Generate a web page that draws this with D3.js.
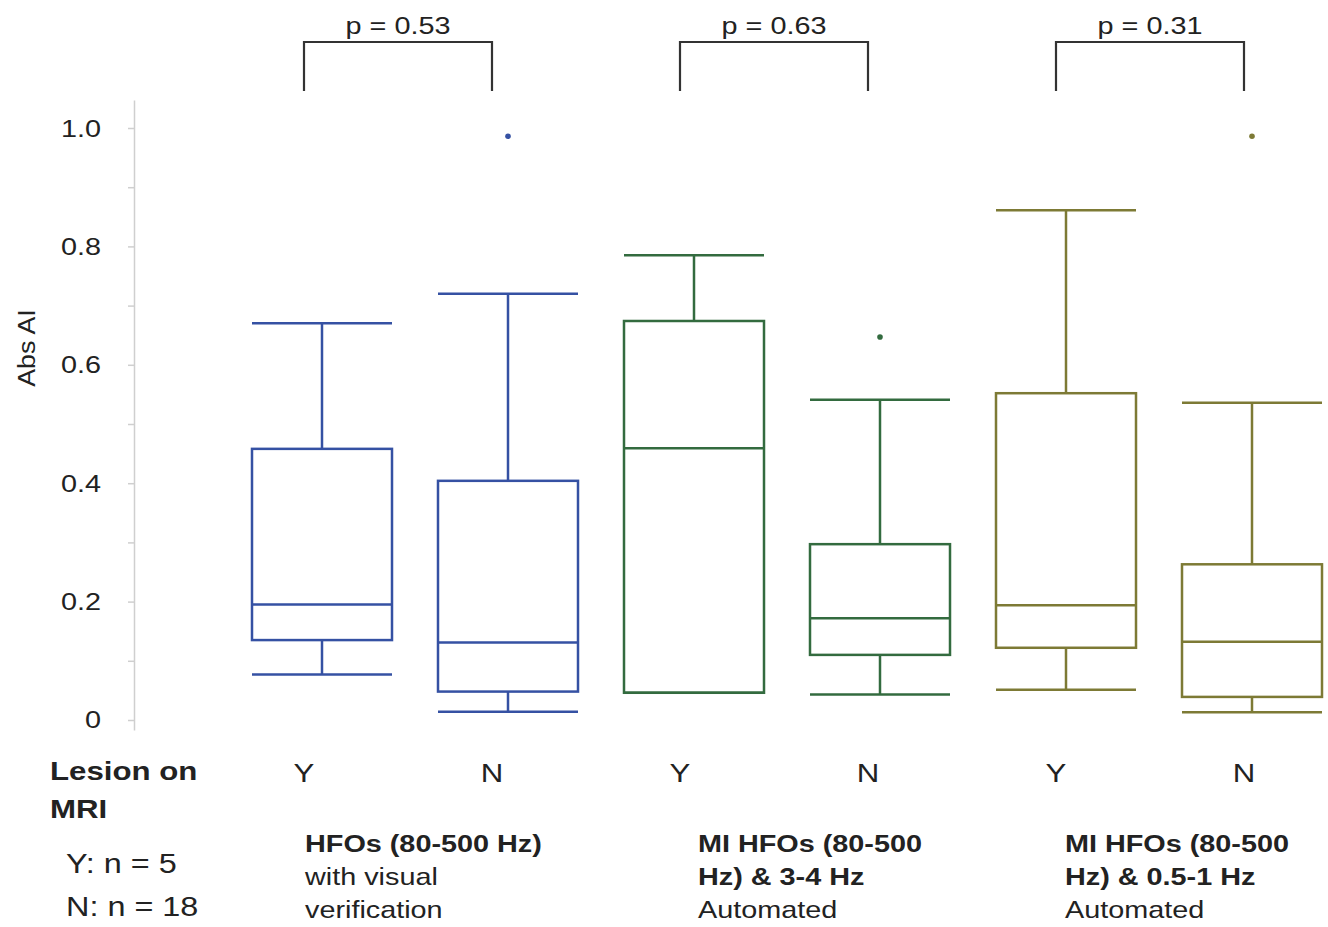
<!DOCTYPE html>
<html>
<head>
<meta charset="utf-8">
<script src="https://cdn.jsdelivr.net/npm/d3@7"></script>
<style>
  body { margin: 0; background: #fff; }
  text { font-family: "Liberation Sans", Arial, sans-serif; fill: #222; }
</style>
</head>
<body>
<script>
var width = 1328, height = 927;

// data
var categories = ["Y", "N", "Y", "N", "Y", "N"];
var groupOf = [0, 0, 1, 1, 2, 2];
var whiskerHigh = [0.670, 0.720, 0.785, 0.541, 0.861, 0.536];
var q3 = [0.458, 0.404, 0.674, 0.297, 0.552, 0.263];
var medians = [0.195, 0.131, 0.459, 0.172, 0.194, 0.132];
var q1 = [0.135, 0.048, 0.046, 0.110, 0.122, 0.039];
var whiskerLow = [0.077, 0.014, 0.046, 0.043, 0.051, 0.013];
var outliers = [[], [0.986], [], [0.647], [], [0.986]];

var pLabels = ["p = 0.53", "p = 0.63", "p = 0.31"];
var groupTitles = [["HFOs (80-500 Hz)"], ["MI HFOs (80-500", "Hz) & 3-4 Hz"], ["MI HFOs (80-500", "Hz) & 0.5-1 Hz"]];
var groupSubtitles = [["with visual", "verification"], ["Automated"], ["Automated"]];
var yTicks = [0, 0.1, 0.2, 0.3, 0.4, 0.5, 0.6, 0.7, 0.8, 0.9, 1.0];
var yTickLabels = {"0": "0", "0.2": "0.2", "0.4": "0.4", "0.6": "0.6", "0.8": "0.8", "1": "1.0"};
var groupColors = ["#3551a3", "#336b3f", "#7d7a35"];

var sx = 1.2;        // the picture is a little stretched sideways
var boxW = 140;
var groupTextX = [305, 698, 1065];

var svg = d3.select("body").append("svg")
  .attr("width", width)
  .attr("height", height);

var x = d3.scalePoint().domain(d3.range(categories.length)).range([322, 1252]);
var xl = d3.scalePoint().domain(d3.range(categories.length)).range([304, 1244]);
var y = d3.scaleLinear().domain([-0.0169, 1.0473]).range([730, 100]);

function txt(g, s, tx, ty, size, weight, anchor) {
  return g.append("text")
    .attr("transform", "translate(" + tx + "," + ty + ") scale(" + sx + ",1)")
    .attr("font-size", size)
    .attr("font-weight", weight || "normal")
    .attr("text-anchor", anchor || "start")
    .text(s);
}

// y axis
var axis = svg.append("g")
  .attr("transform", "translate(134,0)")
  .call(d3.axisLeft(y).tickValues(yTicks).tickSize(6).tickSizeOuter(0)
        .tickFormat(function() { return ""; }));
axis.selectAll("path, line").attr("stroke", "#cfcfcf").attr("stroke-width", 1.5);
axis.selectAll(".tick").each(function(d) {
  var key = String(+d.toFixed(1));
  if (yTickLabels[key] !== undefined)
    txt(svg, yTickLabels[key], 101, y(d) + 8.5, 24, "normal", "end");
});

svg.append("text")
  .attr("transform", "translate(35,348) rotate(-90) scale(1.12,1)")
  .attr("font-size", 24)
  .attr("text-anchor", "middle")
  .text("Abs AI");

// boxes
var boxes = svg.selectAll("g.box").data(d3.range(categories.length))
  .enter().append("g").attr("class", "box")
  .attr("stroke", function(i) { return groupColors[groupOf[i]]; })
  .attr("stroke-width", 2.5)
  .attr("fill", "none");

boxes.append("line")
  .attr("x1", function(i) { return x(i); }).attr("x2", function(i) { return x(i); })
  .attr("y1", function(i) { return y(whiskerHigh[i]); })
  .attr("y2", function(i) { return y(q3[i]); });
boxes.append("line")
  .attr("x1", function(i) { return x(i); }).attr("x2", function(i) { return x(i); })
  .attr("y1", function(i) { return y(q1[i]); })
  .attr("y2", function(i) { return y(whiskerLow[i]); });
[whiskerHigh, whiskerLow].forEach(function(arr) {
  boxes.append("line")
    .attr("x1", function(i) { return x(i) - boxW / 2; })
    .attr("x2", function(i) { return x(i) + boxW / 2; })
    .attr("y1", function(i) { return y(arr[i]); })
    .attr("y2", function(i) { return y(arr[i]); });
});
boxes.append("rect")
  .attr("x", function(i) { return x(i) - boxW / 2; })
  .attr("width", boxW)
  .attr("y", function(i) { return y(q3[i]); })
  .attr("height", function(i) { return y(q1[i]) - y(q3[i]); });
boxes.append("line")
  .attr("x1", function(i) { return x(i) - boxW / 2; })
  .attr("x2", function(i) { return x(i) + boxW / 2; })
  .attr("y1", function(i) { return y(medians[i]); })
  .attr("y2", function(i) { return y(medians[i]); });
boxes.each(function(i) {
  d3.select(this).selectAll("circle").data(outliers[i])
    .enter().append("circle")
    .attr("cx", x(i)).attr("cy", function(d) { return y(d); })
    .attr("r", 2.8).attr("stroke", "none")
    .attr("fill", groupColors[groupOf[i]]);
});

// significance brackets
pLabels.forEach(function(p, g) {
  var a = xl(2 * g), b = xl(2 * g + 1);
  svg.append("path")
    .attr("d", "M" + a + ",91V42H" + b + "V91")
    .attr("fill", "none").attr("stroke", "#333").attr("stroke-width", 2.2);
  txt(svg, p, (a + b) / 2, 34, 24, "normal", "middle");
});

// category labels
categories.forEach(function(c, i) {
  txt(svg, c, xl(i), 782, 26, "normal", "middle");
});

txt(svg, "Lesion on", 50, 780, 26, "bold");
txt(svg, "MRI", 50, 818, 26, "bold");
txt(svg, "Y: n = 5", 66, 873, 27);
txt(svg, "N: n = 18", 66, 916, 27);

groupTitles.forEach(function(lines, g) {
  var rows = lines.map(function(s) { return { s: s, w: "bold" }; })
    .concat(groupSubtitles[g].map(function(s) { return { s: s, w: "normal" }; }));
  rows.forEach(function(r, k) {
    txt(svg, r.s, groupTextX[g], 852 + k * 33, 24, r.w);
  });
});
</script>
</body>
</html>
